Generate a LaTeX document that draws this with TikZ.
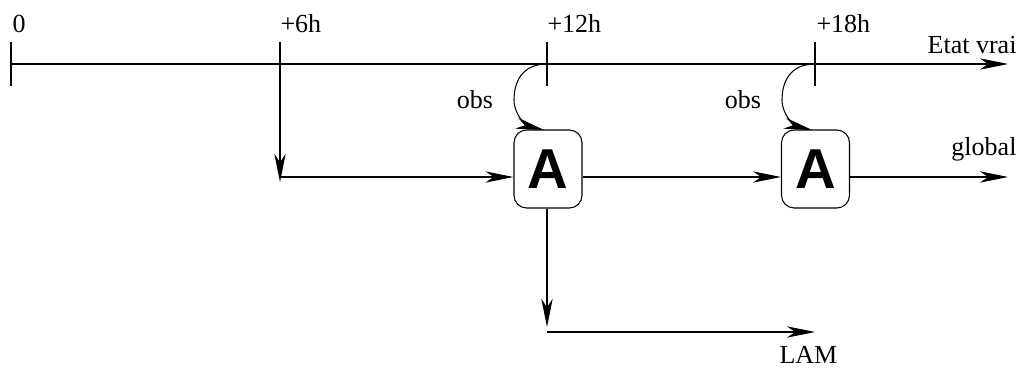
\documentclass[tikz,border=0pt]{standalone}
\usepackage{fontspec}
\setmainfont{Liberation Serif}
\newfontfamily\boxfont{Liberation Sans}
\usetikzlibrary{arrows.meta}
\begin{document}
\begin{tikzpicture}[x=0.025cm,y=-0.025cm,
  line width=0.75pt,
  arr/.style={-{Stealth[length=20pt,width=8pt,inset=6pt]}},
  lbl/.style={font=\fontsize{18.5pt}{21pt}\selectfont, inner sep=0pt},
  abox/.style={draw, rounded corners=9pt, minimum width=68*0.025cm, minimum height=78*0.025cm, inner sep=0pt, font=\boxfont\bfseries\fontsize{40pt}{42pt}\selectfont}]
\useasboundingbox (0,0) rectangle (1021,375);
% timeline
\coordinate (t0) at (11,64);
\coordinate (t6) at (280,64);
\coordinate (t12) at (547,64);
\coordinate (t18) at (815,64);
\coordinate (tend) at (1008,64);
\draw[arr] (t0) -- (tend);
\draw (11,42) -- (11,86);
\draw (280,42) -- (t6);
\draw (547,42) -- (547,86);
\draw (815,42) -- (815,86);
\node[lbl, anchor=base west] (l0) at (12,32) {0};
\node[lbl, anchor=base west] (l6) at (280,32) {+6h};
\node[lbl, anchor=base west] (l12) at (547,32) {+12h};
\node[lbl, anchor=base west] (l18) at (816,32) {+18h};
\node[lbl, anchor=base east] (ev) at (1017,53) {Etat vrai};
% boxes
\node[abox] (A1) at (548,169) {A};
\node[abox] (A2) at (815.5,169) {A};
% 6h branch
\coordinate (d6) at (280,182);
\coordinate (h6) at (280,177);
\draw[arr] (t6) -- (d6);
\draw[arr] (h6) -- (A1.west |- h6);
\draw[arr] (A1.east |- h6) -- (A2.west |- h6);
\coordinate (gend) at (1008,177);
\draw[arr] (A2.east |- h6) -- (gend);
\node[lbl, anchor=base east] (gl) at (1017,155) {global};
% LAM branch
\coordinate (d12) at (547,327);
\coordinate (l12s) at (547,332);
\coordinate (lend) at (815,332);
\draw[arr] (A1.south -| d12) -- (d12);
\draw[arr] (l12s) -- (lend);
\node[lbl, anchor=base west] (lam) at (779,363) {LAM};
% obs curves
\draw[arr] (t12) .. controls (522,64) and (514,82) .. (514,100) .. controls (514,116) and (528,126) .. (544,130);
\draw[arr] (t18) .. controls (790,64) and (782,82) .. (782,100) .. controls (782,116) and (796,126) .. (812,130);
\node[lbl, anchor=base] (o1) at (475,108) {obs};
\node[lbl, anchor=base] (o2) at (743,108) {obs};
\end{tikzpicture}
\end{document}
